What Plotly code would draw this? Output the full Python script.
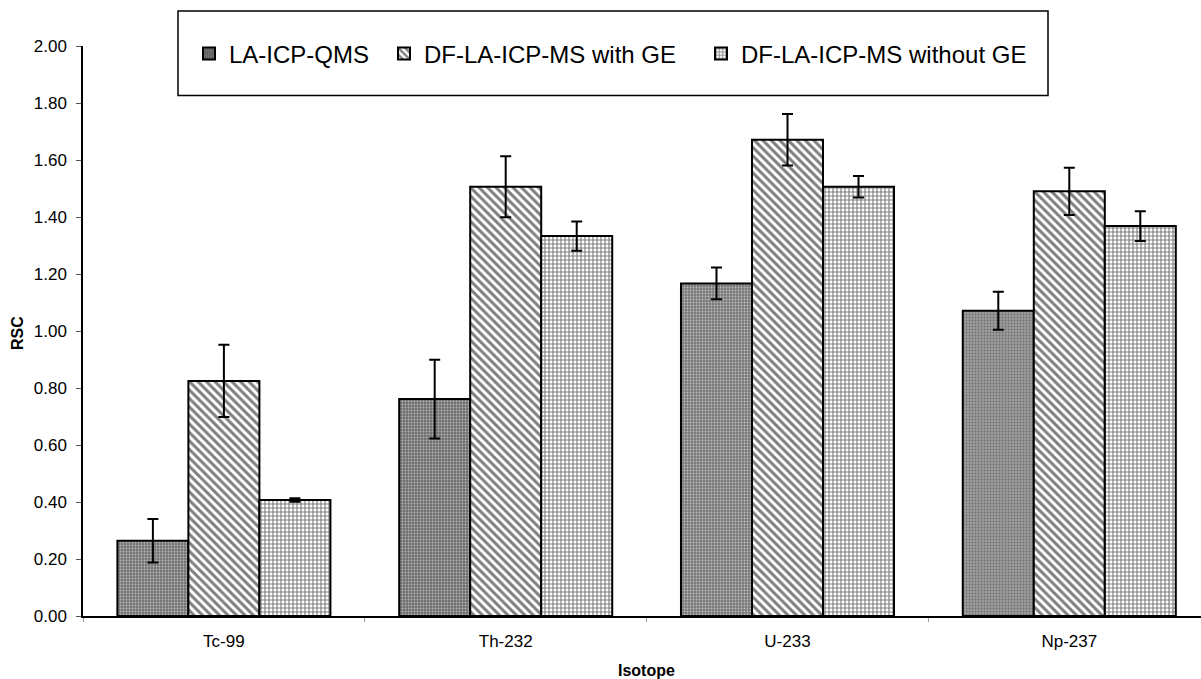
import plotly.graph_objects as go

isotopes = ["Tc-99", "Th-232", "U-233", "Np-237"]
series_names = ["LA-ICP-QMS", "DF-LA-ICP-MS with GE", "DF-LA-ICP-MS without GE"]

la_qms = [0.264, 0.761, 1.167, 1.071]
la_qms_err = [0.076, 0.138, 0.056, 0.067]

df_with_ge = [0.825, 1.506, 1.671, 1.490]
df_with_ge_err = [0.127, 0.107, 0.090, 0.083]

df_without_ge = [0.407, 1.333, 1.506, 1.368]
df_without_ge_err = [0.006, 0.051, 0.038, 0.052]

y_ticks = [0.0, 0.2, 0.4, 0.6, 0.8, 1.0, 1.2, 1.4, 1.6, 1.8, 2.0]

# styles (kept separate from data)
W, H = 1201, 679
ML, MR, MT, MB = 83, 0, 46, 63
PW = W - ML - MR
PH = H - MT - MB
CAT_SPACING = 281.8
FONT = "Liberation Sans, Arial, sans-serif"
la_shades = ["#747474", "#6e6e6e", "#7a7a7a", "#9c9c9c"]
legend_widths = [150, 272, 300]


def px_x(p):
    return (p - ML) / PW


def px_y(p):
    return (H - MB - p) / PH


err_style = dict(type="data", thickness=2, width=5.5, color="black", visible=True)

fig = go.Figure()
fig.add_trace(go.Bar(
    name=series_names[0], x=isotopes, y=la_qms, legendwidth=legend_widths[0],
    error_y=dict(array=la_qms_err, **err_style),
    marker=dict(
        color=la_shades,
        line=dict(color="black", width=2),
        pattern=dict(shape=".", fillmode="overlay", bgcolor=la_shades,
                     fgcolor="#2a2a2a", size=3, solidity=0.3),
    ),
))
fig.add_trace(go.Bar(
    name=series_names[1], x=isotopes, y=df_with_ge, legendwidth=legend_widths[1],
    error_y=dict(array=df_with_ge_err, **err_style),
    marker=dict(
        color="white",
        line=dict(color="black", width=2),
        pattern=dict(shape="\\", fillmode="overlay", bgcolor="white",
                     fgcolor="black", size=6, solidity=0.5),
    ),
))
fig.add_trace(go.Bar(
    name=series_names[2], x=isotopes, y=df_without_ge, legendwidth=legend_widths[2],
    error_y=dict(array=df_without_ge_err, **err_style),
    marker=dict(
        color="white",
        line=dict(color="black", width=2),
        pattern=dict(shape="+", fillmode="overlay", bgcolor="white",
                     fgcolor="black", size=4, solidity=0.5),
    ),
))

fig.update_layout(
    width=W, height=H,
    margin=dict(l=ML, r=MR, t=MT, b=MB, pad=0),
    paper_bgcolor="white", plot_bgcolor="white",
    font=dict(family=FONT, color="black"),
    barmode="group", bargap=0.244, bargroupgap=0,
    showlegend=True,
    legend=dict(
        orientation="h", x=px_x(189), xanchor="left",
        y=px_y(54), yanchor="middle",
        font=dict(size=24, family=FONT, color="black"),
        bgcolor="rgba(0,0,0,0)", borderwidth=0,
    ),
    xaxis=dict(
        range=[-0.5, -0.5 + PW / CAT_SPACING],
        showline=True, linecolor="black", linewidth=1.5,
        ticks="outside", tickson="boundaries", ticklen=4, tickcolor="#9a9a9a",
        tickfont=dict(size=17), ticklabelstandoff=9,
        showgrid=False, zeroline=False,
    ),
    yaxis=dict(
        range=[0, 2], tickvals=y_ticks, tickformat=".2f",
        showline=True, linecolor="black", linewidth=1.5,
        ticks="outside", ticklen=5, tickcolor="#555555",
        tickfont=dict(size=17), ticklabelstandoff=6,
        showgrid=False, zeroline=False,
    ),
    shapes=[dict(
        type="rect", xref="paper", yref="paper",
        x0=px_x(178), x1=px_x(1048), y0=px_y(95.5), y1=px_y(11),
        line=dict(color="black", width=1.5), fillcolor="rgba(0,0,0,0)",
    )],
    annotations=[
        dict(text="<b>Isotope</b>", xref="paper", yref="paper",
             x=px_x(646), y=px_y(670), xanchor="center", yanchor="middle",
             showarrow=False, font=dict(size=16, family=FONT)),
        dict(text="<b>RSC</b>", xref="paper", yref="paper",
             x=px_x(17), y=px_y(333), xanchor="center", yanchor="middle",
             textangle=-90, showarrow=False, font=dict(size=16, family=FONT)),
    ],
)

fig.write_html(
    "out.html",
    config={"displayModeBar": False},
    post_script="document.body.style.margin='0';document.body.style.overflow='hidden';",
)
